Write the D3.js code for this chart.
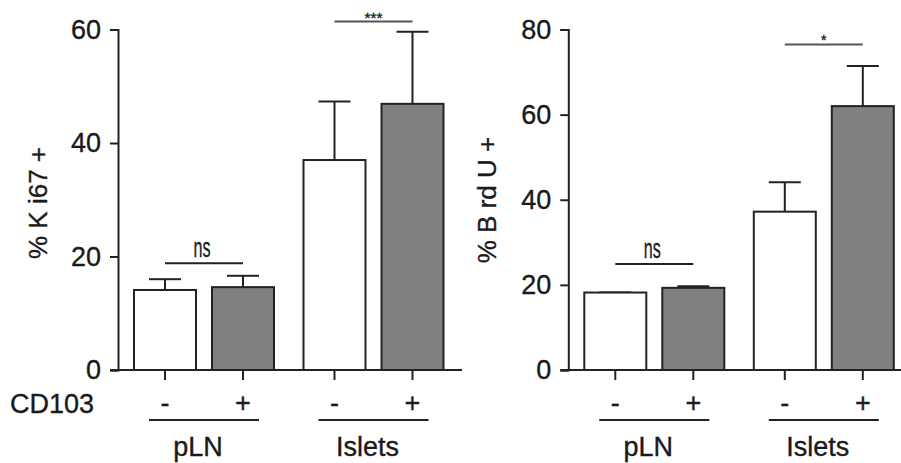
<!DOCTYPE html>
<html><head><meta charset="utf-8">
<script src="https://cdn.jsdelivr.net/npm/d3@7"></script>
<style>
html,body{margin:0;padding:0;background:#fff;}
text{font-family:"Liberation Sans",Arial,sans-serif;fill:#1a1a1a;stroke:#1a1a1a;stroke-width:0.35px;}
</style></head>
<body>
<svg id="chart" width="901" height="463"></svg>
<script>
// ---- data ----
const groups = ["pLN", "Islets"];
const cd103 = ["-", "+"];
const ki67Mean = [14.1, 14.6, 37.0, 46.9];
const ki67Err  = [1.9, 2.0, 10.3, 12.7];
const brduMean = [18.2, 19.3, 37.2, 62.0];
const brduErr  = [0.0, 0.4, 6.9, 9.4];
const ki67Ticks = [0, 20, 40, 60];
const brduTicks = [0, 20, 40, 60, 80];
const ki67Sig = [{label: "ns", from: 0, to: 1, level: 18.8}, {label: "***", from: 2, to: 3, level: 61.4}];
const brduSig = [{label: "ns", from: 0, to: 1, level: 24.9}, {label: "*", from: 2, to: 3, level: 76.5}];

const svg = d3.select("#chart");
const ink = "#222";
const fs = "27px";

function panel(opt) {
  const g = svg.append("g");
  const y = d3.scaleLinear().domain([0, opt.max]).range([370, 29.5]);
  const outer = d3.scalePoint().domain(groups).range([opt.ax + 86, opt.ax + 255.5]);
  const inner = d3.scalePoint().domain(cd103).range([-39, 39]);
  const cats = [];
  groups.forEach(gr => cd103.forEach(c => cats.push({group: gr, cd: c})));
  const xc = i => outer(cats[i].group) + inner(cats[i].cd);
  const bw = 62;

  // x axis baseline
  g.append("line").attr("x1", opt.ax - 8).attr("x2", opt.xEnd)
    .attr("y1", y(0)).attr("y2", y(0)).attr("stroke", ink).attr("stroke-width", 2);

  // bars
  cats.forEach((c, i) => {
    const top = y(opt.mean[i] + opt.err[i]);
    const cx = xc(i);
    g.append("line").attr("x1", cx).attr("x2", cx).attr("y1", y(opt.mean[i])).attr("y2", top)
      .attr("stroke", ink).attr("stroke-width", 2);
    g.append("line").attr("x1", cx - 16).attr("x2", cx + 16).attr("y1", top).attr("y2", top)
      .attr("stroke", ink).attr("stroke-width", 2);
    g.append("rect").attr("x", cx - bw / 2).attr("width", bw)
      .attr("y", y(opt.mean[i])).attr("height", y(0) - y(opt.mean[i]))
      .attr("fill", c.cd === "+" ? "#808080" : "#fff")
      .attr("stroke", ink).attr("stroke-width", 2);
    // x tick
    g.append("line").attr("x1", cx).attr("x2", cx).attr("y1", y(0)).attr("y2", y(0) + 10)
      .attr("stroke", ink).attr("stroke-width", 2);
    g.append("text").attr("x", cx).attr("y", 412).attr("text-anchor", "middle")
      .style("font-size", fs).text(c.cd);
  });

  // group lines & labels
  groups.forEach(gr => {
    const cx = outer(gr);
    g.append("line").attr("x1", cx - 55).attr("x2", cx + 55).attr("y1", 420).attr("y2", 420)
      .attr("stroke", ink).attr("stroke-width", 2);
    g.append("text").attr("x", cx - 6).attr("y", 456).attr("text-anchor", "middle")
      .style("font-size", fs).text(gr);
  });

  // y axis
  const yAxis = d3.axisLeft(y).tickValues(opt.ticks).tickSize(8).tickSizeOuter(8).tickPadding(9);
  const ya = g.append("g").attr("transform", `translate(${opt.ax},0)`).call(yAxis);
  ya.select(".domain").attr("stroke", ink).attr("stroke-width", 2);
  ya.selectAll(".tick line").attr("stroke", ink).attr("stroke-width", 2);
  ya.selectAll(".tick text").style("font-size", fs).attr("fill", "#1a1a1a")
    .style("font-family", '"Liberation Sans",Arial,sans-serif');

  // y label
  g.append("text").attr("transform", `translate(${opt.labelX},${opt.labelY}) rotate(-90)`)
    .attr("text-anchor", "middle").style("font-size", "26px").text(opt.label);

  // significance
  opt.sig.forEach(s => {
    const x1 = xc(s.from), x2 = xc(s.to), ly = y(s.level);
    g.append("line").attr("x1", x1).attr("x2", x2).attr("y1", ly).attr("y2", ly)
      .attr("stroke", s.label === "ns" ? ink : "#555").attr("stroke-width", 2);
    if (s.label === "ns") {
      g.append("text").attr("x", (x1 + x2) / 2 - 2).attr("y", ly - 6).attr("text-anchor", "middle")
        .attr("textLength", 17).attr("lengthAdjust", "spacingAndGlyphs")
        .style("font-size", "28px").text(s.label);
    } else {
      const t = g.append("text").attr("x", (x1 + x2) / 2).attr("y", ly + 1).attr("text-anchor", "middle")
        .style("font-size", "14px").text(s.label);
      if (s.label.length > 1) t.attr("textLength", 18).attr("lengthAdjust", "spacingAndGlyphs");
    }
  });
}

panel({ax: 118, xEnd: 462, max: 60, ticks: ki67Ticks, mean: ki67Mean, err: ki67Err,
       sig: ki67Sig, label: "% K i67 +", labelX: 47, labelY: 203});
panel({ax: 568.3, xEnd: 901, max: 80, ticks: brduTicks, mean: brduMean, err: brduErr,
       sig: brduSig, label: "% B rd U +", labelX: 496, labelY: 200});

svg.append("text").attr("x", 10).attr("y", 413).style("font-size", fs).text("CD103");
</script>
</body></html>
